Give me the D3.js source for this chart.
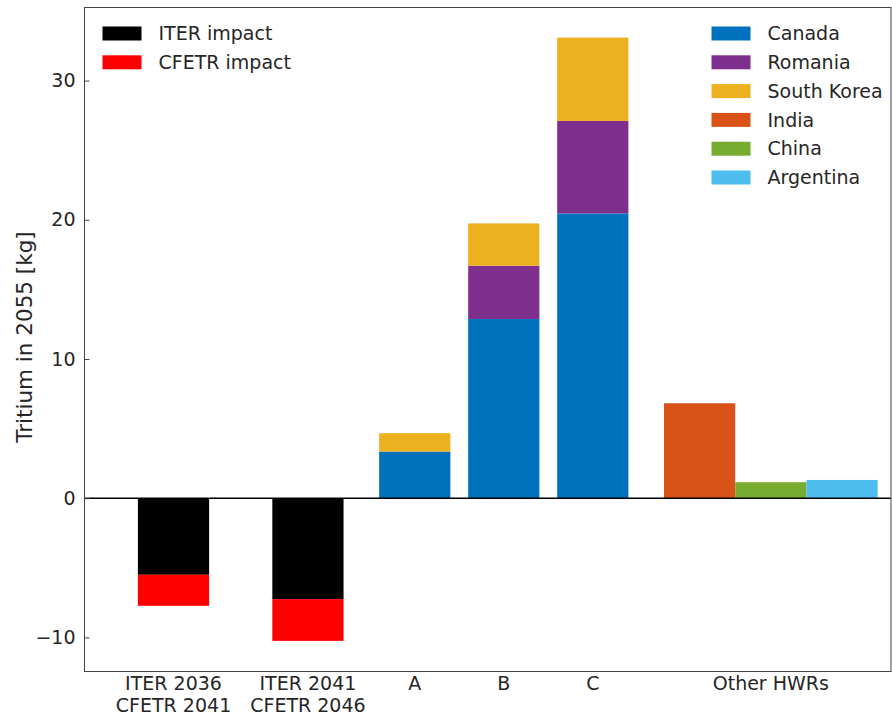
<!DOCTYPE html>
<html>
<head>
<meta charset="utf-8">
<script src="https://cdn.jsdelivr.net/npm/d3@7"></script>
<style>
  body { margin: 0; background: #fff; }
  text { font-family: "DejaVu Sans", sans-serif; fill: #262626; }
</style>
</head>
<body>
<div id="chart"></div>
<script>
// data
const groupLabels = [["ITER 2036", "CFETR 2041"], ["ITER 2041", "CFETR 2046"], ["A"], ["B"], ["C"], ["Other HWRs"]];
const groupPos = [0.29, 1.8, 3, 4, 5, 7.0];

const iterImpact = [-5.5, -7.25];
const cfetrImpact = [-2.23, -3.0];

const scenarioPos = [3, 4, 5];
const canada = [3.35, 12.87, 20.46];
const romania = [0, 3.83, 6.64];
const southKorea = [1.32, 3.04, 5.99];

const hwrNames = ["India", "China", "Argentina"];
const hwrPos = [6.2, 7.0, 7.8];
const hwrValues = [6.82, 1.15, 1.31];

const yTicks = [-10, 0, 10, 20, 30];

const colors = {
    "ITER impact": "#000000",
    "CFETR impact": "#ff0000",
    "Canada": "#0072BD",
    "Romania": "#7E2F8E",
    "South Korea": "#EDB120",
    "India": "#D95319",
    "China": "#77AC30",
    "Argentina": "#4DBEEE"
};

const width = 892, height = 717;
const margin = {top: 7.5, right: 1, bottom: 45.5, left: 84.5};

const svg = d3.select("#chart").append("svg")
    .attr("width", width)
    .attr("height", height);

const x = d3.scaleLinear()
    .domain([-0.71, 8.35])
    .range([margin.left, width - margin.right]);

const y = d3.scaleLinear()
    .domain([-12.45, 35.25])
    .range([height - margin.bottom, margin.top]);

const barW = x(0.8) - x(0);

// bar segments: [pos, from, to, colour]
let segs = [];
iterImpact.forEach((v, i) => {
    segs.push([groupPos[i], 0, v, colors["ITER impact"]]);
    segs.push([groupPos[i], v, v + cfetrImpact[i], colors["CFETR impact"]]);
});
scenarioPos.forEach((p, i) => {
    let b = 0;
    [[canada[i], "Canada"], [romania[i], "Romania"], [southKorea[i], "South Korea"]].forEach(([v, k]) => {
        if (v > 0) segs.push([p, b, b + v, colors[k]]);
        b += v;
    });
});
hwrPos.forEach((p, i) => segs.push([p, 0, hwrValues[i], colors[hwrNames[i]]]));

svg.append("g").selectAll("rect")
    .data(segs)
    .enter()
    .append("rect")
    .attr("x", d => x(d[0]) - barW / 2)
    .attr("width", barW)
    .attr("y", d => y(Math.max(d[1], d[2])))
    .attr("height", d => Math.abs(y(d[1]) - y(d[2])))
    .attr("fill", d => d[3]);

// zero line
svg.append("line")
    .attr("x1", margin.left).attr("x2", width - margin.right)
    .attr("y1", y(0)).attr("y2", y(0))
    .attr("stroke", "#000").attr("stroke-width", 1.5);

// frame
svg.append("rect")
    .attr("x", margin.left).attr("y", margin.top)
    .attr("width", width - margin.right - margin.left)
    .attr("height", height - margin.bottom - margin.top)
    .attr("fill", "none")
    .attr("stroke", "#444").attr("stroke-width", 1);

// y axis
const yAxis = svg.append("g")
    .attr("transform", `translate(${margin.left},0)`)
    .call(d3.axisLeft(y).tickValues(yTicks).tickSizeInner(-5).tickSizeOuter(0).tickPadding(9));
yAxis.select(".domain").remove();
yAxis.selectAll(".tick line").attr("stroke", "#444");
yAxis.selectAll(".tick text")
    .style("font-size", "19px")
    .style("font-family", "DejaVu Sans, sans-serif")
    .attr("fill", "#262626");

svg.append("text")
    .attr("transform", `translate(32, 337) rotate(-90)`)
    .attr("text-anchor", "middle")
    .style("font-size", "21.5px")
    .text("Tritium in 2055 [kg]");

// x labels
groupLabels.forEach((lines, i) => {
    let t = svg.append("text")
        .attr("text-anchor", "middle")
        .style("font-size", "19px");
    lines.forEach((l, j) => {
        t.append("tspan")
            .attr("x", x(groupPos[i]))
            .attr("y", 690 + j * 22.3)
            .text(l);
    });
});

// legends
function legend(keys, lx, ly) {
    let g = svg.append("g");
    keys.forEach((k, i) => {
        g.append("rect")
            .attr("x", lx).attr("y", ly + i * 28.8 - 7)
            .attr("width", 39).attr("height", 14)
            .attr("fill", colors[k]);
        g.append("text")
            .attr("x", lx + 56).attr("y", ly + i * 28.8)
            .attr("dy", "0.35em")
            .style("font-size", "19px")
            .text(k);
    });
}
legend(["ITER impact", "CFETR impact"], 102.5, 33.5);
legend(["Canada", "Romania", "South Korea", "India", "China", "Argentina"], 711.5, 33.5);
</script>
</body>
</html>
